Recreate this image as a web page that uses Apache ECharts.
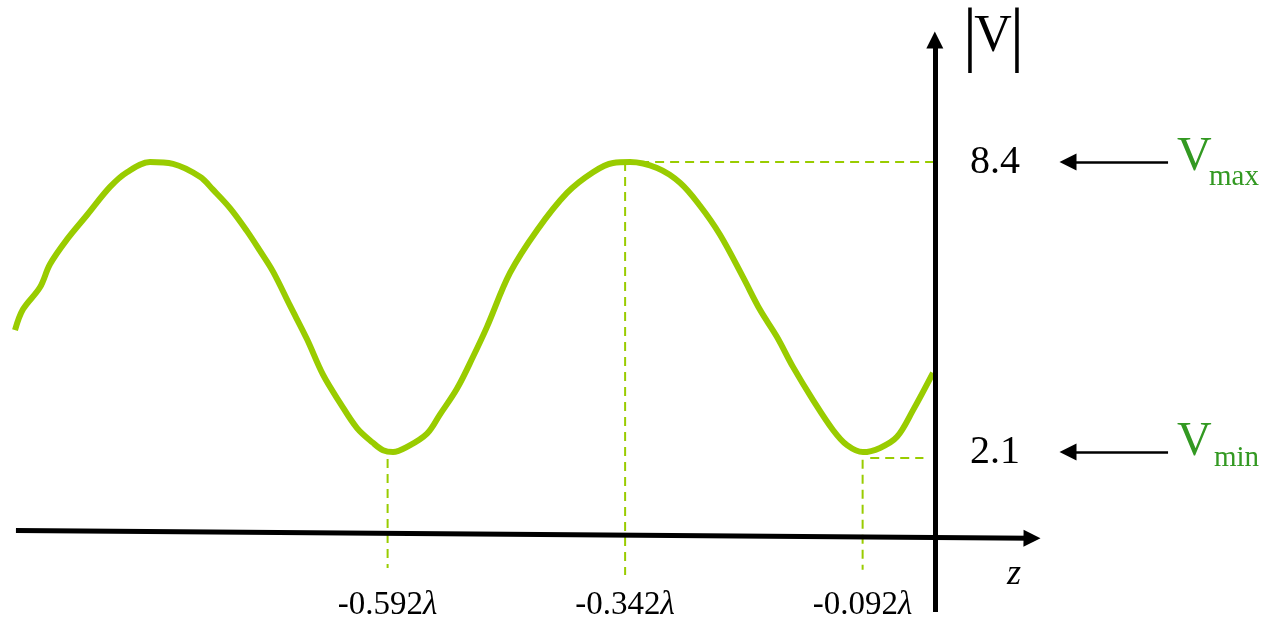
<!DOCTYPE html>
<html>
<head>
<meta charset="utf-8">
<script src="https://cdn.jsdelivr.net/npm/echarts@6/dist/echarts.min.js"></script>
<style>
  html, body { margin: 0; padding: 0; background: #fff; }
  #chart { width: 1266px; height: 628px; }
</style>
</head>
<body>
<div id="chart"></div>
<script>
// |V| along the line (z in wavelengths)
const zCurve = [-0.9842, -0.9758, -0.9579, -0.9474, -0.9295, -0.9084, -0.8842, -0.8663, -0.8421, -0.8179,
  -0.7895, -0.7758, -0.7579, -0.7400, -0.7263, -0.7126, -0.6947, -0.6768, -0.6600, -0.6421,
  -0.6242, -0.6074, -0.5968, -0.5863, -0.5716, -0.5505, -0.5368, -0.5189, -0.5021, -0.4874,
  -0.4632, -0.4347, -0.4032, -0.3758, -0.3547, -0.3368, -0.3084, -0.2842, -0.2632, -0.2421,
  -0.2179, -0.2000, -0.1821, -0.1653, -0.1442, -0.1232, -0.1084, -0.0916, -0.0737, -0.0558,
  -0.0389, -0.0179]
const vCurve = [4.75, 5.20, 5.68, 6.18, 6.72, 7.25, 7.86, 8.18, 8.40, 8.36,
  8.08, 7.80, 7.40, 6.90, 6.47, 6.02, 5.28, 4.55, 3.78, 3.17,
  2.62, 2.30, 2.14, 2.10, 2.21, 2.50, 2.92, 3.48, 4.17, 4.82,
  5.99, 6.92, 7.73, 8.18, 8.38, 8.40, 8.27, 7.95, 7.45, 6.82,
  5.90, 5.19, 4.60, 3.95, 3.23, 2.58, 2.25, 2.10, 2.19, 2.43,
  3.01, 3.82]

const tickZ = [-0.592, -0.342, -0.092]
const tickLabels = ['-0.592', '-0.342', '-0.092']
const VMAX = 8.4
const VMIN = 2.1
const levelValues = [VMIN, VMAX]

// where the drawn |V| axis crosses the z axis
const AXIS_Z = -0.016

const green = '#99cc00'
const darkGreen = '#339922'
const serif = '"Liberation Serif", "Times New Roman", serif'

const chart = echarts.init(document.getElementById('chart'))

const dash = { color: green, width: 2, type: [9, 6] }
const guide = (pts) => ({
  type: 'line',
  data: pts,
  showSymbol: false,
  silent: true,
  lineStyle: dash,
  z: 1
})
const black = (w) => ({ color: '#000', width: w, type: 'solid' })

const option = {
  animation: false,
  backgroundColor: '#fff',
  grid: { left: 0, right: 0, top: 0, bottom: 0, outerBoundsMode: 'none' },
  xAxis: {
    type: 'value',
    min: -1,
    max: 0.3326,
    position: 'bottom',
    offset: -50,
    axisLine: { show: false },
    axisTick: { show: false },
    splitLine: { show: false },
    axisLabel: {
      customValues: tickZ,
      margin: 11,
      formatter: (val) => {
        const i = tickZ.indexOf(val)
        return i < 0 ? '' : '{n|' + tickLabels[i] + '}{l|λ}'
      },
      rich: {
        n: { fontFamily: serif, fontSize: 33, color: '#000' },
        l: { fontFamily: serif, fontSize: 33, fontStyle: 'italic', color: '#000' }
      }
    }
  },
  yAxis: {
    type: 'value',
    min: -1.723,
    max: 11.921,
    position: 'right',
    offset: -331,
    axisLine: { show: false },
    axisTick: { show: false },
    splitLine: { show: false },
    axisLabel: {
      customValues: levelValues,
      margin: 35,
      fontFamily: serif,
      fontSize: 40,
      color: '#000'
    }
  },
  series: [
    guide([[tickZ[0], 1.95], [tickZ[0], -0.42]]),
    guide([[tickZ[1], VMAX], [tickZ[1], -0.57]]),
    guide([[tickZ[1], VMAX], [AXIS_Z, VMAX]]),
    guide([[tickZ[2], 1.93], [tickZ[2], -0.46]]),
    guide([[-0.084, 1.97], [-0.028, 1.97]]),
    {
      type: 'line',
      data: zCurve.map((z, i) => [z, vCurve[i]]),
      showSymbol: false,
      smooth: 0.35,
      lineStyle: { color: green, width: 6 },
      z: 3
    },
    {
      type: 'line',
      data: [],
      z: 4,
      markLine: {
        silent: true,
        animation: false,
        symbol: ['none', 'triangle'],
        symbolSize: 17,
        label: { show: false },
        emphasis: { disabled: true },
        data: [
          // z axis
          [{ coord: [-0.9832, 0.395], lineStyle: black(5) }, { coord: [0.0863, 0.226] }],
          // |V| axis
          [{ coord: [AXIS_Z, -1.377], lineStyle: black(5) }, { coord: [AXIS_Z, 11.05] }],
          // Vmax / Vmin pointers
          [{ coord: [0.2295, VMAX], lineStyle: black(2.5) }, { coord: [0.1242, VMAX] }],
          [{ coord: [0.2295, VMIN], lineStyle: black(2.5) }, { coord: [0.1242, VMIN] }]
        ]
      }
    }
  ],
  graphic: [
    { type: 'text', style: { text: '|', x: 970, y: 39, font: '72px ' + serif, fill: '#000', textAlign: 'center', textVerticalAlign: 'middle' } },
    { type: 'text', style: { text: 'V', x: 993, y: 37.5, font: '52px ' + serif, fill: '#000', textAlign: 'center', textVerticalAlign: 'middle' } },
    { type: 'text', style: { text: '|', x: 1017, y: 39, font: '72px ' + serif, fill: '#000', textAlign: 'center', textVerticalAlign: 'middle' } },
    { type: 'text', style: { text: 'z', x: 1014, y: 575, font: 'italic 36px ' + serif, fill: '#000', textAlign: 'center', textVerticalAlign: 'middle' } },
    { type: 'text', style: { text: 'V', x: 1177, y: 157.5, font: '48px ' + serif, fill: darkGreen, textAlign: 'left', textVerticalAlign: 'middle' } },
    { type: 'text', style: { text: 'max', x: 1209, y: 177, font: '29px ' + serif, fill: darkGreen, textAlign: 'left', textVerticalAlign: 'middle' } },
    { type: 'text', style: { text: 'V', x: 1177, y: 442, font: '48px ' + serif, fill: darkGreen, textAlign: 'left', textVerticalAlign: 'middle' } },
    { type: 'text', style: { text: 'min', x: 1214, y: 458, font: '29px ' + serif, fill: darkGreen, textAlign: 'left', textVerticalAlign: 'middle' } }
  ]
}

chart.setOption(option)
</script>
</body>
</html>
